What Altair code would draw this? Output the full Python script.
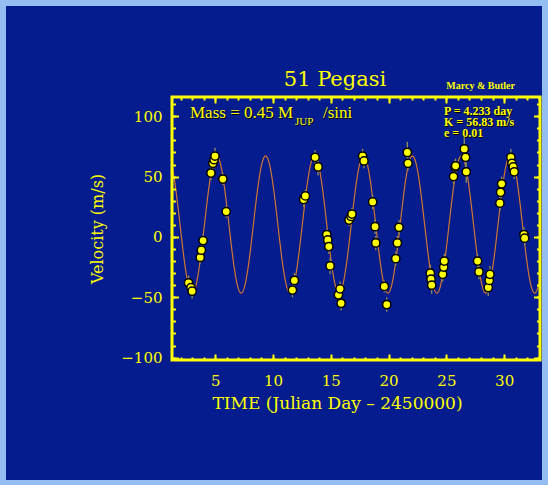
import altair as alt
import pandas as pd

# ---- data ----
time_days = [2.69, 2.90, 3.00, 3.70, 3.80, 3.95, 4.63, 4.80, 4.90, 4.98, 5.66, 5.95,
             11.68, 11.85, 12.65, 12.80, 13.64, 13.90, 14.65, 14.74, 14.83, 14.94,
             15.66, 15.80, 15.89, 16.58, 16.75, 16.83, 17.75, 17.87,
             18.62, 18.83, 18.89, 19.63, 19.84, 20.62, 20.76, 20.90, 21.62, 21.68,
             23.61, 23.67, 23.73, 24.68, 24.77, 24.82, 25.62, 25.75, 25.80,
             26.55, 26.66, 26.72, 27.70, 27.82, 28.62, 28.71, 28.77,
             29.63, 29.69, 29.78, 30.58, 30.67, 30.78, 30.87, 31.71, 31.77]
velocity = [-38, -42, -45, -17, -11, -3, 53, 61, 64, 67, 48, 21,
            -44, -36, 31, 34, 66, 58, 2, -2.5, -8, -24,
            -48, -43, -55, 14, 17, 19, 67, 63,
            29, 8.5, -5, -41, -56, -18, -5, 8, 70, 61,
            -30, -35, -40, -31, -25, -20, 50, 58, 59,
            73, 66, 54, -20, -29, -42, -36, -31,
            28, 37, 44, 66, 61, 58, 54, 2, -1]
errors = [6, 6, 6, 5, 5, 5, 6, 6, 6, 7, 5, 5,
          6, 6, 6, 5, 6, 7, 5, 6, 6, 7,
          6, 6, 6, 5, 5, 5, 6, 6,
          6, 6, 6, 5, 6, 6, 6, 6, 9, 6,
          7, 6, 7, 6, 6, 6, 6, 6, 6,
          10, 8, 9, 6, 6, 7, 7, 7,
          6, 6, 6, 7, 7, 6, 6, 6, 6]

# orbital fit parameters shown on the chart
PERIOD = 4.233      # day
K_AMP = 56.83       # m/s
V_OFFSET = 10.3     # m/s (systemic offset of the fit curve)
T_PEAK = 9.36       # epoch of a maximum

x_ticks = [5, 10, 15, 20, 25, 30]
x_minor = list(range(2, 34))
y_ticks = [-100, -50, 0, 50, 100]
y_minor = list(range(-100, 111, 10))
X_DOMAIN = [1.26, 33.1]
Y_DOMAIN = [-102, 116]

YEL = "#FFFF00"
DARK = "#041C8E"
LIGHT = "#94BDF2"
SERIF = "DejaVu Serif"
TSERIF = "Liberation Serif"

W, H = 368, 263

df = pd.DataFrame({"t": time_days, "v": velocity, "err": errors})
one = pd.DataFrame({"k": [0]})

xs = alt.Scale(domain=X_DOMAIN, nice=False, zero=False)
ys = alt.Scale(domain=Y_DOMAIN, nice=False, zero=False)


def axis(orient, values, size, labels=False, title=None, title_size=16, **kw):
    return alt.Axis(orient=orient, values=values, tickSize=size, offset=-size,
                    domain=False, grid=False, labels=labels, tickColor=YEL,
                    tickWidth=2, labelColor=YEL, labelFont=SERIF, labelFontSize=15,
                    title=title, titleColor=YEL, titleFont=SERIF, titleFontSize=title_size,
                    titleFontWeight="normal", zindex=1, **kw)


base = alt.Chart(df)

background = alt.Chart(one).mark_rect(color=DARK).encode(
    x=alt.value(-166), x2=alt.value(W + 2), y=alt.value(-91), y2=alt.value(H + 120))

curve = alt.Chart(alt.sequence(X_DOMAIN[0], X_DOMAIN[1], 0.02, as_="t")).transform_calculate(
    v=f"{V_OFFSET} + {K_AMP}*cos(2*PI*(datum.t - {T_PEAK})/{PERIOD})"
).mark_line(color="#D0752E", strokeWidth=1.2).encode(
    x=alt.X("t:Q", scale=xs, axis=axis("bottom", x_minor, 3)),
    y=alt.Y("v:Q", scale=ys, axis=axis("left", y_minor, 3.5)),
)

errbars = base.transform_calculate(
    lo="datum.v - datum.err", hi="datum.v + datum.err"
).mark_rule(color="#8E8E5C", strokeWidth=1.3).encode(
    x=alt.X("t:Q", scale=xs, axis=axis("bottom", x_ticks, 6, labels=True,
                                      title="TIME  (Julian Day \u2013 2450000)",
                                      labelPadding=13, titlePadding=7,
                                      titleX=165, titleAlign="center",
                                      title_size=17)),
    y=alt.Y("lo:Q", scale=ys, axis=axis("left", y_ticks, 6.5, labels=True,
                                       title="Velocity (m/s)",
                                       labelPadding=10, titlePadding=15)),
    y2="hi:Q",
)

points = base.mark_point(filled=True, fill=YEL, stroke="black", strokeWidth=1.5,
                         size=68, opacity=1).encode(
    x=alt.X("t:Q", scale=xs, axis=axis("top", x_ticks, 6)),
    y=alt.Y("v:Q", scale=ys, axis=axis("right", y_ticks, 6.5)),
)

ghost = base.mark_point(opacity=0).encode(
    x=alt.X("t:Q", scale=xs, axis=axis("top", x_minor, 3)),
    y=alt.Y("v:Q", scale=ys, axis=axis("right", y_minor, 3.5)),
)

frame = alt.Chart(one).mark_rect(filled=False, stroke=YEL, strokeWidth=3).encode(
    x=alt.value(0), x2=alt.value(W), y=alt.value(0), y2=alt.value(H))


def label(txt, x, y, size, font=TSERIF, align="left", weight="normal", shadow=True):
    layers = []
    if shadow:
        layers.append(alt.Chart(one).mark_text(
            text=txt, font=font, fontSize=size, align=align, baseline="alphabetic",
            fontWeight=weight, color="black").encode(x=alt.value(x + 1), y=alt.value(y + 1)))
    layers.append(alt.Chart(one).mark_text(
        text=txt, font=font, fontSize=size, align=align, baseline="alphabetic",
        fontWeight=weight, color=YEL).encode(x=alt.value(x), y=alt.value(y)))
    return layers


texts = []
texts += label("51 Pegasi", 163, -11, 21, font=SERIF, align="center", shadow=False)
texts += label("Marcy & Butler", 343, -8, 10, align="right", weight="bold", shadow=False)
texts += label("Mass = 0.45 M", 18, 21, 17)
texts += label("JUP", 123, 28, 11)
texts += label("/sini", 151, 21, 17)
texts += label("P = 4.233 day", 272, 18, 12, weight="bold")
texts += label("K = 56.83 m/s", 272, 29, 12, weight="bold")
texts += label("e = 0.01", 272, 40, 12, weight="bold")

chart = alt.layer(background, curve, errbars, points, ghost, frame, *texts).resolve_axis(
    x="independent", y="independent"
).properties(
    width=W, height=H,
    autosize=alt.AutoSizeParams(type="none"),
    padding={"left": 172, "top": 97, "right": 8, "bottom": 125},
    background=LIGHT,
).configure_view(stroke=None)

chart.save("out.html", embed_options={"renderer": "svg", "actions": False})
